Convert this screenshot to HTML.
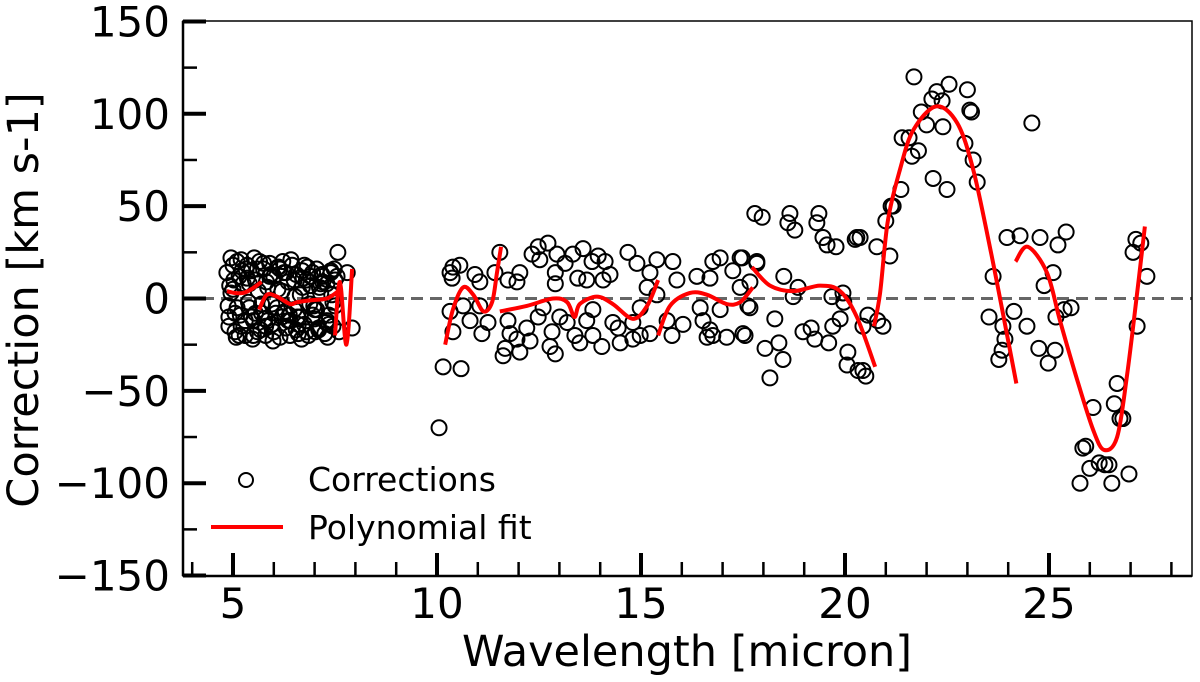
<!DOCTYPE html>
<html><head><meta charset="utf-8"><style>
html,body{margin:0;padding:0;background:#fff;}
svg{display:block;font-family:"DejaVu Sans","Liberation Sans",sans-serif;}
</style></head><body>
<svg id="chart" width="1200" height="682" viewBox="0 0 1200 682">
<rect x="0" y="0" width="1200" height="682" fill="#fff"/>
<g id="grid"></g>
<g id="pts"></g>
<g id="fits"></g>
<g id="axes"></g>
</svg>
<script>
// ---- data ----
const corrX = [
4.85,4.9,4.95,5.0,5.05,5.1,5.15,5.2,5.25,5.3,5.35,5.4,5.45,5.5,5.55,5.6,5.65,5.7,5.75,5.8,5.85,5.9,5.95,6.0,6.05,6.1,6.15,6.2,6.25,6.3,6.35,6.4,6.45,6.5,6.55,6.6,6.65,6.7,6.75,6.8,6.85,6.9,6.95,7.0,7.05,7.1,7.15,7.2,7.25,7.3,7.35,7.4,7.45,7.5,
4.9,5.0,5.1,5.2,5.3,5.4,5.5,5.6,5.7,5.8,5.9,6.0,6.1,6.2,6.3,6.4,6.5,6.6,6.7,6.8,6.9,7.0,7.1,7.2,7.3,7.4,7.5,7.6,
4.95,5.15,5.35,5.55,5.75,5.95,6.15,6.35,6.55,6.75,6.95,7.15,7.35,7.55,
4.88,5.02,5.18,5.32,5.48,5.62,5.78,5.92,6.08,6.22,6.38,6.52,6.68,6.82,6.98,7.12,7.28,7.42,
4.92,5.08,5.22,5.38,5.52,5.68,5.82,5.98,6.12,6.28,6.42,6.58,6.72,6.88,7.02,7.18,7.32,7.48,
5.05,5.45,5.85,6.25,6.65,7.05,7.45,
7.57,7.8,7.92,
10.05,10.15,10.59,11.54,10.39,10.56,10.32,10.37,10.93,11.05,11.42,11.74,12.03,11.96,12.33,12.48,12.72,12.52,12.94,13.14,13.33,13.58,13.8,13.95,14.12,13.45,13.67,12.9,12.9,14.07,14.24,14.68,14.9,15.39,15.22,15.78,15.88,15.15,15.39,16.37,16.76,16.94,17.43,17.25,16.69,17.67,17.43,17.84,
10.32,10.39,10.64,10.81,11.05,11.1,11.25,11.74,11.79,11.67,11.62,12.03,11.96,12.28,12.2,12.48,12.6,12.82,12.77,12.9,13.01,13.19,13.38,13.5,13.67,13.82,14.04,13.82,14.31,14.44,14.49,14.8,14.98,14.98,14.8,15.22,15.64,15.76,16.03,16.45,16.52,16.69,16.62,16.76,17.1,17.5,16.94,17.62,
17.79,17.97,18.65,18.6,18.77,19.36,19.31,19.46,19.56,19.78,20.29,20.25,17.48,17.84,18.5,18.85,18.73,19.68,19.95,19.97,17.67,18.28,19.88,19.7,17.55,18.97,19.17,19.26,19.6,18.38,18.04,18.48,20.07,20.05,20.32,18.16,
21.69,22.25,22.55,23.0,22.13,22.38,21.87,23.06,23.1,22.0,22.4,21.4,21.57,22.94,21.8,21.64,23.14,23.24,22.16,22.5,21.37,21.18,21.13,21.0,20.37,20.78,21.1,23.97,24.29,24.78,25.42,25.22,24.58,23.63,24.88,25.1,25.54,25.37,25.17,24.14,23.53,23.87,24.46,23.92,23.85,23.77,24.75,25.15,24.98,20.56,20.8,20.93,20.44,20.44,20.51,27.13,27.25,27.06,27.4,27.16,26.67,26.6,26.08,26.74,26.81,25.9,25.83,26.23,26.47,26.37,26.0,25.76,26.54,26.96
];
const corrY = [
14,-10,22,5,-18,20,12,-15,8,-20,18,-5,15,-12,10,-18,20,-3,16,-20,6,19,-14,12,-8,17,-21,4,14,-16,9,-12,18,-6,13,-19,2,15,-14,10,-20,7,14,-11,16,-17,3,12,-19,8,-9,14,-15,10,
-15,18,-5,21,-12,8,-20,16,-8,-15,12,-18,5,-10,14,-20,10,-14,6,-18,12,-6,-16,9,-12,15,-4,-18,
3,-20,11,-8,19,-3,16,-12,-17,18,-9,8,-14,12,
-4,10,-9,16,-22,4,-11,13,-5,20,-9,1,-22,17,-4,6,-13,2,
7,-21,15,-2,22,-17,9,-23,17,-7,21,-10,11,-3,-18,13,-21,16,
-8,-10,-12,-8,-10,-6,-2,
25,14,-16,
-70,-37,-38,25,17,18,14,11,13,9,14,10,14,9,24,28,30,21,24,19,24,27,20,23,20,11,10,14,8,10,13,25,19,21,14,20,10,6,2,12,20,22,22,15,11,9,6,20,
-7,-18,-4,-12,-4,-19,-13,-12,-19,-27,-31,-29,-22,-23,-16,-10,-5,-18,-26,-30,-10,-13,-20,-24,-12,-20,-26,-6,-13,-16,-24,-13,-5,-20,-22,-19,-12,-20,-14,-5,-12,-17,-21,-20,-21,-19,-6,-4,
46,44,46,41,37,46,41,33,29,28,33,32,22,19,12,6,1,1,3,-2,-5,-11,-11,-15,-20,-18,-16,-22,-24,-24,-27,-33,-29,-36,-39,-43,
120,112,116,113,108,107,101,102,101,94,93,87,87,84,80,77,75,63,65,59,59,50,50,42,33,28,23,33,34,33,36,29,95,12,7,14,-5,-6,-10,-7,-10,-15,-15,-22,-28,-33,-27,-28,-35,-9,-12,-15,-15,-39,-42,32,30,25,12,-15,-46,-57,-59,-65,-65,-80,-81,-89,-90,-90,-92,-100,-100,-95
];
// polynomial fit segments (x, y)
const fitSegX = [
 [4.85,5.05,5.25,5.45,5.7],
 [5.64,5.83,6.08,6.4,6.57,6.89,7.3,7.58],
 [7.5,7.62,7.78,7.92],
 [10.2,10.39,10.64,10.89,11.14,11.35,11.47,11.57],
 [11.54,12.2,12.85,13.19,13.37,13.5,13.92,14.31,14.8,15.15,15.42],
 [15.42,15.71,16.2,16.62,17.1,17.43,17.74],
 [17.72,18.16,18.73,19.39,19.88,20.29,20.74],
 [20.71,20.86,21.05,21.35,21.67,22.23,22.75,23.14,23.55,23.87,24.2],
 [24.18,24.48,24.95,25.27,25.69,26.08,26.35,26.67,26.91,27.16,27.35]
];
const fitSegY = [
 [4,3,3,5,9],
 [-6,2,1,-3,-2,-1,0,4],
 [-20,9,-25,16],
 [-25,-6,6,2,-7,-2,14,28],
 [-7,-4,0,-2,-10,-3,1,-3,-11,-4,10],
 [-20,-4,3,2,-3,-2,6],
 [17,7,4,7,4,-10,-37],
 [-15,3,42,70,91,104,95,70,28,-8,-46],
 [20,28,14,-12,-44,-71,-82,-75,-42,3,39]
];
const xTickVals = [5,10,15,20,25];
const yTickVals = [150,100,50,0,-50,-100,-150];
const xLabel = "Wavelength [micron]";
const yLabel = "Correction [km s-1]";

// ---- scales ----
const L=183,R=1192,T=21,B=576;
const sx = v => 233 + (v-5)*40.8;
const sy = v => 298.5 - v*1.847;
const NS="http://www.w3.org/2000/svg";
function mk(tag, attrs, parent){const e=document.createElementNS(NS,tag);for(const k in attrs)e.setAttribute(k,attrs[k]);parent.appendChild(e);return e;}

const grid=document.getElementById('grid');
const zl=mk('line',{x1:L,x2:R,y1:sy(0),y2:sy(0),stroke:'#666','stroke-width':3,'stroke-dasharray':'12,7'},grid);



const pts=document.getElementById('pts');
for(let i=0;i<corrX.length;i++){
  const c=mk('circle',{cx:sx(corrX[i]),cy:sy(corrY[i]),r:7.5,fill:'none',stroke:'#000','stroke-width':2},pts);
  
  
}
const fits=document.getElementById('fits');
function smoothPath(xs,ys){
  const p=xs.map((x,i)=>[sx(x),sy(ys[i])]);
  if(p.length<3) return 'M'+p.map(q=>q.join(',')).join('L');
  let d='M'+p[0][0]+','+p[0][1];
  for(let i=0;i<p.length-1;i++){
    const p0=p[Math.max(0,i-1)],p1=p[i],p2=p[i+1],p3=p[Math.min(p.length-1,i+2)];
    const c1=[p1[0]+(p2[0]-p0[0])/6,p1[1]+(p2[1]-p0[1])/6];
    const c2=[p2[0]-(p3[0]-p1[0])/6,p2[1]-(p3[1]-p1[1])/6];
    d+='C'+c1.join(',')+' '+c2.join(',')+' '+p2.join(',');
  }
  return d;
}
for(let s=0;s<fitSegX.length;s++){
  const pth=mk('path',{d:smoothPath(fitSegX[s],fitSegY[s]),fill:'none',stroke:'#ff0000','stroke-width':4,'stroke-linejoin':'round'},fits);
  
  
}

const ax=document.getElementById('axes');
const frame=mk('rect',{x:L,y:T,width:R-L,height:B-T,fill:'none',stroke:'#000','stroke-width':1.5},ax);


mk('line',{x1:L,x2:R,y1:B,y2:B,stroke:'#000','stroke-width':2.5},ax);
mk('line',{x1:L,x2:L,y1:T,y2:B,stroke:'#000','stroke-width':2.5},ax);
for(let v=4;v<=28;v++){
  const major=xTickVals.includes(v);
  mk('line',{x1:sx(v),x2:sx(v),y1:B,y2:B-(major?23:14),stroke:'#000','stroke-width':major?4:2.5},ax);
}
for(const v of xTickVals){
  const t=mk('text',{x:sx(v),y:618,'font-size':42,'text-anchor':'middle',fill:'#000'},ax);
  t.textContent=v;
  
  
}
for(let v=-150;v<=150;v+=25){
  const major=v%50===0;
  mk('line',{x1:L,x2:L+(major?23:14),y1:sy(v),y2:sy(v),stroke:'#000','stroke-width':major?4:2.5},ax);
}
for(const v of yTickVals){
  const t=mk('text',{x:170,y:sy(v)+15,'font-size':42,'text-anchor':'end',fill:'#000'},ax);
  t.textContent=v<0?'\u2212'+Math.abs(v):String(v);
  
  
}
const xt=mk('text',{x:687,y:666,'font-size':43,'text-anchor':'middle',fill:'#000'},ax);
xt.textContent=xLabel;


const yt=mk('text',{x:38,y:300,'font-size':43,'text-anchor':'middle',fill:'#000',transform:'rotate(-90 38 300)'},ax);
yt.textContent=yLabel;



const lg=mk('g',{},ax);


const lc=mk('circle',{cx:246,cy:480,r:7,fill:'none',stroke:'#000','stroke-width':2},lg);


const l1=mk('text',{x:308,y:491,'font-size':33,fill:'#000'},lg);
l1.textContent='Corrections';


const ll=mk('line',{x1:211,x2:283,y1:527,y2:527,stroke:'#ff0000','stroke-width':4},lg);


const l2=mk('text',{x:308,y:539,'font-size':33,fill:'#000'},lg);
l2.textContent='Polynomial fit';


</script>
</body></html>
